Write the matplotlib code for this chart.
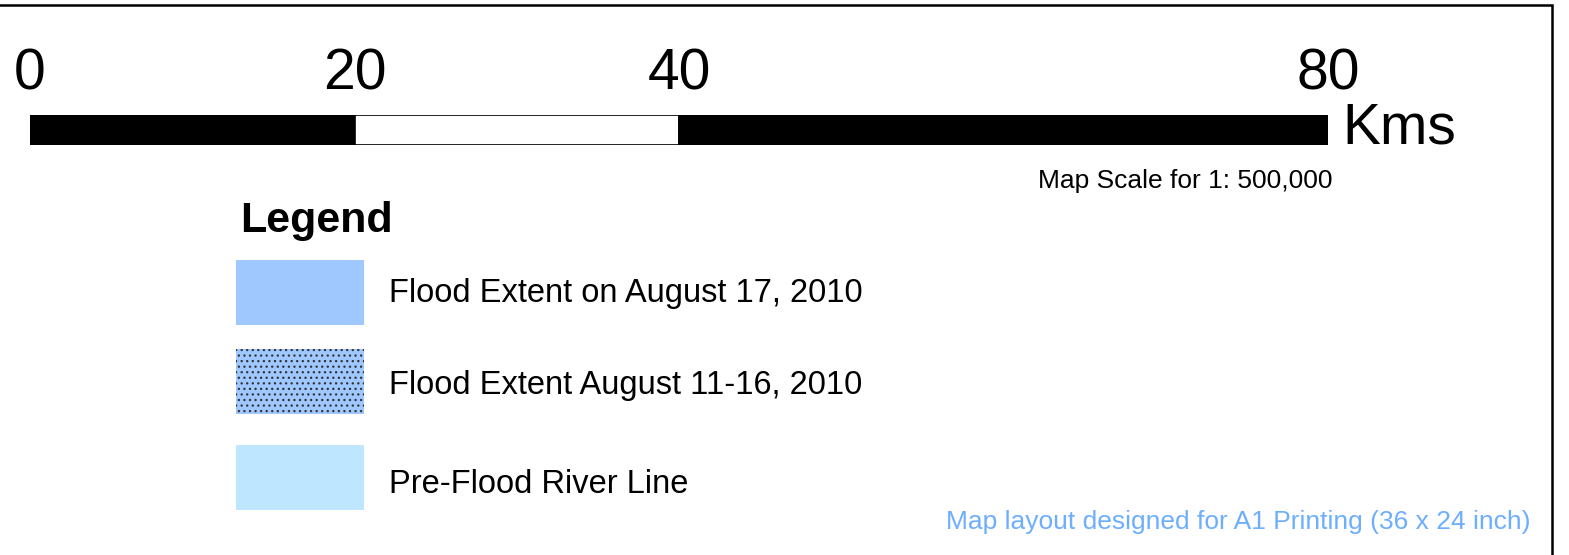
import matplotlib.pyplot as plt
from matplotlib.transforms import blended_transform_factory

plt.rcParams['font.family'] = ['Liberation Sans', 'DejaVu Sans']
plt.rcParams['hatch.linewidth'] = 0.9

# scale bar data (km)
scale_ticks = [0, 20, 40, 80]
scale_fill = ['black', 'white', 'black']
scale_unit = 'Kms'
scale_note = 'Map Scale for 1: 500,000'

# legend entries
legend_title = 'Legend'
legend_labels = ['Flood Extent on August 17, 2010',
                 'Flood Extent August 11-16, 2010',
                 'Pre-Flood River Line']
legend_colors = ['#9ec8ff', '#9ec8ff', '#bee7ff']
legend_hatch = [None, '...', None]

footer = 'Map layout designed for A1 Printing (36 x 24 inch)'

W, H = 1569, 555
fig = plt.figure(figsize=(W / 100, H / 100), dpi=100)

# page in pixel coords, used for placing text and the frame
page = fig.add_axes([0, 0, 1, 1])
page.set_xlim(0, W)
page.set_ylim(H, 0)
page.axis('off')
page.plot([0, 1552, 1552], [4.5, 4.5, H + 5], color='black', lw=1.8,
          solid_joinstyle='miter')

# scale bar
bar = fig.add_axes([30 / W, (H - 145) / H, 1298 / W, 30 / H])
bar.set_xlim(scale_ticks[0], scale_ticks[-1])
bar.set_ylim(0, 1)
bar.axis('off')
starts = scale_ticks[:-1]
widths = [b - a for a, b in zip(scale_ticks[:-1], scale_ticks[1:])]
bar.barh(0.5, widths, left=starts, height=1, color=scale_fill,
         edgecolor='black', linewidth=1.2)

tr = blended_transform_factory(bar.transData, page.transData)
for t in scale_ticks:
    page.text(t, 90, str(t), transform=tr, ha='center', va='baseline',
              fontsize=41)
page.text(1342, 143, scale_unit, ha='left', va='baseline', fontsize=41)
page.text(1332, 188, scale_note, ha='right', va='baseline', fontsize=19)

# legend
page.text(240, 232, legend_title, ha='left', va='baseline', fontsize=31,
          fontweight='bold')
rows_y = [260, 349, 445]
label_base = [302, 394, 493]
for y, yb, lab, col, hat in zip(rows_y, label_base, legend_labels,
                                legend_colors, legend_hatch):
    page.add_patch(plt.Rectangle((236, y), 128, 65, facecolor=col,
                                 edgecolor='#333333' if hat else col,
                                 linewidth=0, hatch=hat))
    page.text(389, yb, lab, ha='left', va='baseline', fontsize=23.5)

page.text(1530, 529, footer, ha='right', va='baseline', fontsize=19,
          color='#6eaeff')

fig.savefig('out.png', dpi=100)
